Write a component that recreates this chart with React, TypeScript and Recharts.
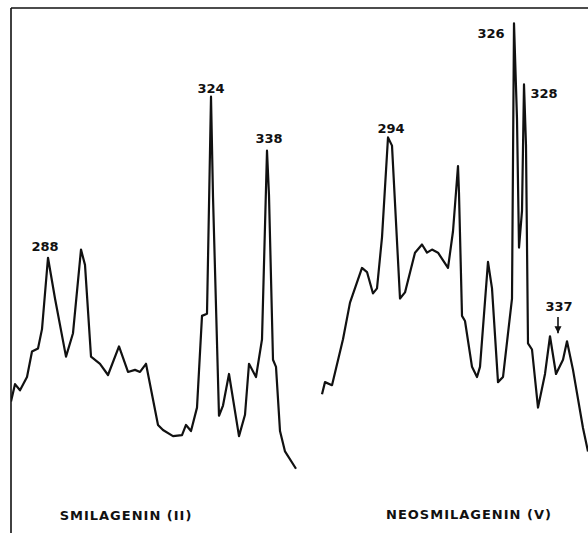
import { LineChart, Line, XAxis, YAxis, ReferenceDot, ReferenceLine } from "recharts";

// scan position (chart divisions) vs. relative intensity
const smilagenin = [
  { x: 0, y: 139 }, { x: 4, y: 156 }, { x: 9, y: 150 }, { x: 16, y: 163 },
  { x: 21, y: 188 }, { x: 27, y: 191 }, { x: 31, y: 210 }, { x: 37, y: 280 },
  { x: 44, y: 240 }, { x: 55, y: 183 }, { x: 62, y: 206 }, { x: 70, y: 288 },
  { x: 74, y: 273 }, { x: 80, y: 183 }, { x: 89, y: 176 }, { x: 97, y: 165 },
  { x: 108, y: 193 }, { x: 117, y: 168 }, { x: 124, y: 170 }, { x: 129, y: 168 },
  { x: 135, y: 176 }, { x: 147, y: 116 }, { x: 152, y: 111 }, { x: 162, y: 105 },
  { x: 171, y: 106 }, { x: 175, y: 116 }, { x: 180, y: 110 }, { x: 186, y: 133 },
  { x: 191, y: 223 }, { x: 196, y: 225 }, { x: 200, y: 438 }, { x: 202, y: 340 },
  { x: 208, y: 125 }, { x: 212, y: 135 }, { x: 218, y: 166 }, { x: 228, y: 105 },
  { x: 234, y: 126 }, { x: 238, y: 176 }, { x: 245, y: 163 }, { x: 251, y: 200 },
  { x: 256, y: 385 }, { x: 258, y: 341 }, { x: 262, y: 180 }, { x: 265, y: 173 },
  { x: 269, y: 110 }, { x: 274, y: 90 }, { x: 285, y: 73 },
];

const neosmilagenin = [
  { x: 311, y: 146 }, { x: 314, y: 158 }, { x: 321, y: 155 }, { x: 332, y: 200 },
  { x: 339, y: 236 }, { x: 351, y: 270 }, { x: 356, y: 266 }, { x: 362, y: 245 },
  { x: 366, y: 250 }, { x: 371, y: 300 }, { x: 377, y: 398 }, { x: 381, y: 390 },
  { x: 389, y: 240 }, { x: 394, y: 246 }, { x: 404, y: 285 }, { x: 411, y: 293 },
  { x: 416, y: 285 }, { x: 421, y: 288 }, { x: 427, y: 285 }, { x: 437, y: 270 },
  { x: 442, y: 306 }, { x: 447, y: 370 }, { x: 448, y: 343 }, { x: 451, y: 223 },
  { x: 454, y: 218 }, { x: 461, y: 173 }, { x: 466, y: 163 }, { x: 469, y: 173 },
  { x: 477, y: 276 }, { x: 481, y: 250 }, { x: 487, y: 158 }, { x: 492, y: 163 },
  { x: 501, y: 240 }, { x: 503, y: 510 }, { x: 506, y: 416 }, { x: 508, y: 290 },
  { x: 511, y: 326 }, { x: 513, y: 450 }, { x: 515, y: 390 }, { x: 517, y: 196 },
  { x: 521, y: 190 }, { x: 527, y: 133 }, { x: 534, y: 166 }, { x: 539, y: 203 },
  { x: 545, y: 166 }, { x: 552, y: 180 }, { x: 556, y: 198 }, { x: 562, y: 170 },
  { x: 572, y: 113 }, { x: 577, y: 90 },
];

const peakLabels = [
  { x: 34, y: 291, text: "288" },
  { x: 200, y: 446, text: "324" },
  { x: 258, y: 397, text: "338" },
  { x: 380, y: 407, text: "294" },
  { x: 480, y: 500, text: "326" },
  { x: 533, y: 441, text: "328" },
  { x: 548, y: 232, text: "337" },
];

const titles = [
  { x: 115, y: 27, text: "SMILAGENIN (II)" },
  { x: 458, y: 28, text: "NEOSMILAGENIN (V)" },
];

// arrow pointing at the 337 shoulder
const arrowTop = { x: 547, y: 222 };
const arrowTip = { x: 547, y: 206 };

const INK = "#111";

const ArrowHead = (props: any) => {
  const { cx, cy } = props;
  return (
    <path d={`M${cx - 3.5},${cy - 7} L${cx},${cy} L${cx + 3.5},${cy - 7} Z`} fill={INK} />
  );
};

export default function App() {
  return (
    <div style={{ position: "absolute", left: 0, top: 0, background: "#fff" }}>
      <LineChart
        width={588}
        height={533}
        margin={{ top: 8, right: 0, left: 11, bottom: 0 }}
      >
        <XAxis type="number" dataKey="x" domain={[0, 577]} hide allowDataOverflow />
        <YAxis type="number" dataKey="y" domain={[10, 525]} hide allowDataOverflow />
        <ReferenceLine x={0} stroke={INK} strokeWidth={1.6} ifOverflow="visible" />
        <ReferenceLine y={525} stroke={INK} strokeWidth={1.6} ifOverflow="visible" />
        <Line
          data={smilagenin}
          dataKey="y"
          type="linear"
          dot={false}
          stroke={INK}
          strokeWidth={2.2}
          strokeLinejoin="round"
          isAnimationActive={false}
        />
        <Line
          data={neosmilagenin}
          dataKey="y"
          type="linear"
          dot={false}
          stroke={INK}
          strokeWidth={2.2}
          strokeLinejoin="round"
          isAnimationActive={false}
        />
        {peakLabels.map((p) => (
          <ReferenceDot
            key={p.text}
            x={p.x}
            y={p.y}
            r={0}
            stroke="none"
            label={{
              value: p.text,
              position: "center",
              fill: INK,
              fontSize: 13,
              fontWeight: "bold",
              fontFamily: "DejaVu Sans",
            }}
          />
        ))}
        <ReferenceLine
          segment={[arrowTop, arrowTip]}
          stroke={INK}
          strokeWidth={1.6}
        />
        <ReferenceDot x={arrowTip.x} y={arrowTip.y} r={0} shape={ArrowHead} />
        {titles.map((t) => (
          <ReferenceDot
            key={t.text}
            x={t.x}
            y={t.y}
            r={0}
            stroke="none"
            label={{
              value: t.text,
              position: "center",
              fill: INK,
              fontSize: 13,
              fontWeight: "bold",
              fontFamily: "DejaVu Sans",
              letterSpacing: 1,
            }}
          />
        ))}
      </LineChart>
    </div>
  );
}
